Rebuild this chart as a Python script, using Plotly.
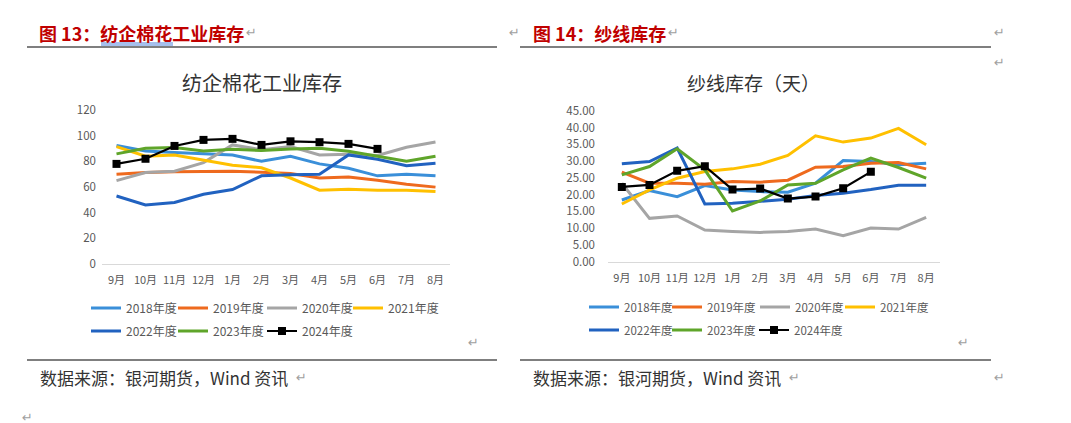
import plotly.graph_objects as go
from plotly.subplots import make_subplots

W, H = 1071, 423
OFF = 8  # page body margin in the browser

months = ["9月", "10月", "11月", "12月", "1月", "2月", "3月", "4月", "5月", "6月", "7月", "8月"]
seasons = ["2018年度", "2019年度", "2020年度", "2021年度", "2022年度", "2023年度", "2024年度"]
colors = ["#3A8FD9", "#EE6A1E", "#A5A5A5", "#FFC000", "#2162C0", "#5FA52A", "#000000"]

# 纺企棉花工业库存 (万吨)
cotton_2018 = [92.3, 88.0, 86.8, 86.0, 85.0, 80.0, 84.0, 78.0, 74.6, 68.7, 70.0, 68.7]
cotton_2019 = [70.0, 71.3, 71.8, 72.3, 72.3, 71.5, 70.5, 67.0, 67.7, 65.3, 62.2, 59.9]
cotton_2020 = [65.0, 71.3, 72.3, 79.0, 92.8, 89.0, 91.5, 85.0, 85.5, 84.5, 91.0, 95.0]
cotton_2021 = [91.5, 84.0, 85.0, 81.0, 77.0, 75.0, 67.0, 57.5, 58.3, 57.5, 57.5, 56.5]
cotton_2022 = [53.0, 46.0, 48.0, 54.4, 58.0, 68.7, 69.5, 70.0, 85.0, 81.6, 76.5, 78.5]
cotton_2023 = [85.8, 90.2, 90.7, 88.0, 89.4, 88.4, 89.7, 90.2, 87.9, 83.7, 80.0, 84.0]
cotton_2024 = [78.0, 82.0, 92.0, 96.7, 97.5, 92.8, 95.6, 94.9, 93.6, 89.7]

# 纱线库存（天）
yarn_2018 = [18.4, 21.2, 19.4, 22.7, 21.4, 20.9, 20.7, 23.4, 30.2, 29.9, 28.9, 29.4]
yarn_2019 = [26.7, 23.4, 23.4, 23.1, 23.9, 23.7, 24.3, 28.2, 28.4, 29.4, 29.6, 27.7]
yarn_2020 = [23.4, 12.9, 13.6, 9.4, 9.0, 8.7, 9.0, 9.7, 7.7, 10.0, 9.7, 13.2]
yarn_2021 = [17.2, 21.4, 24.9, 26.9, 27.7, 29.1, 31.7, 37.6, 35.7, 36.9, 39.8, 34.9]
yarn_2022 = [29.2, 29.9, 33.9, 17.2, 17.4, 18.1, 18.6, 19.7, 20.4, 21.5, 22.8, 22.8]
yarn_2023 = [25.9, 28.4, 33.7, 27.4, 15.1, 18.1, 22.9, 23.4, 27.4, 30.9, 28.1, 24.9]
yarn_2024 = [22.3, 22.9, 27.1, 28.5, 21.5, 21.8, 18.8, 19.4, 21.9, 26.8]

cotton = [cotton_2018, cotton_2019, cotton_2020, cotton_2021, cotton_2022, cotton_2023, cotton_2024]
yarn = [yarn_2018, yarn_2019, yarn_2020, yarn_2021, yarn_2022, yarn_2023, yarn_2024]


def px(x):
    return (x - OFF) / W


def py(y):
    return 1 - (y - OFF) / H


# legend slot of each season: (left-chart x, right-chart x, row y)
slot_x_left = [86, 173, 262, 348, 86, 173, 262]
slot_x_right = [584, 667, 755, 840, 584, 667, 754]
slot_y_left = [308, 308, 308, 308, 331, 331, 331]
slot_y_right = [307, 307, 307, 307, 330, 330, 330]

fig = make_subplots(rows=1, cols=2)

legends = {}
n = 0
for col, data, sx, sy, fsize in [(1, cotton, slot_x_left, slot_y_left, 12),
                                 (2, yarn, slot_x_right, slot_y_right, 11.5)]:
    for i, (name, vals) in enumerate(zip(seasons, data)):
        n += 1
        leg_id = "legend" if n == 1 else f"legend{n}"
        is_last = i == len(seasons) - 1
        fig.add_trace(go.Scatter(
            x=months[:len(vals)], y=vals, name=name,
            mode="lines+markers" if is_last else "lines",
            line=dict(color=colors[i], width=2.2 if is_last else 3),
            marker=dict(symbol="square", size=8, color="#000000"),
            legend=leg_id,
        ), row=1, col=col)
        legends[leg_id] = dict(x=px(sx[i]), y=py(sy[i]), xanchor="left", yanchor="middle",
                               orientation="h", itemwidth=30, bgcolor="rgba(0,0,0,0)",
                               itemclick=False,
                               font=dict(family="Noto Sans CJK SC", size=fsize, color="#595959"))
fig.update_layout(**legends)

axis_font = dict(family="Noto Sans CJK SC", size=11, color="#595959")
fig.update_xaxes(type="category", categoryorder="array", categoryarray=months,
                 range=[-0.5, 11.5], showgrid=False, showline=True, linecolor="#D9D9D9",
                 linewidth=1, ticks="", tickfont=axis_font, zeroline=False,
                 ticklabelstandoff=6)
fig.update_yaxes(showgrid=False, showline=False, zeroline=False, ticks="",
                 tickfont=dict(family="Noto Sans CJK SC", size=11.5, color="#595959"))

fig.update_layout(
    xaxis=dict(domain=[px(102), px(450)]),
    yaxis=dict(domain=[py(264), py(110)], range=[0, 120], dtick=20, ticklabelstandoff=5),
    xaxis2=dict(domain=[px(608), px(940)]),
    yaxis2=dict(domain=[py(261.5), py(111)], range=[0, 45], dtick=5, tickformat=".2f",
                ticklabelstandoff=12),
)

annotations = [
    dict(text="<b>图 13：纺企棉花工业库存</b>", x=px(37), y=py(33),
         font=dict(family="Noto Sans CJK SC", size=18, color="#C00000")),
    dict(text="<b>图 14：纱线库存</b>", x=px(531), y=py(33),
         font=dict(family="Noto Sans CJK SC", size=18, color="#C00000")),
    dict(text="纺企棉花工业库存", x=px(180), y=py(82),
         font=dict(family="Noto Sans CJK SC", size=20, color="#333333")),
    dict(text="纱线库存（天）", x=px(685), y=py(82),
         font=dict(family="Noto Sans CJK SC", size=19, color="#333333")),
    dict(text="数据来源：银河期货，Wind 资讯", x=px(38), y=py(377),
         font=dict(family="Noto Sans CJK SC", size=17, color="#333333")),
    dict(text="数据来源：银河期货，Wind 资讯", x=px(531), y=py(377),
         font=dict(family="Noto Sans CJK SC", size=17, color="#333333")),
]
# paragraph marks
for x, y in [(244, 33), (507, 33), (666, 33), (992, 33), (992, 63), (466, 342),
             (956, 342), (294, 377), (787, 377), (992, 377), (20, 417)]:
    annotations.append(dict(text="↵", x=px(x), y=py(y),
                            font=dict(family="DejaVu Sans", size=13, color="#A0A0A0")))
for a in annotations:
    a.update(xref="paper", yref="paper", showarrow=False, xanchor="left", yanchor="middle")
fig.update_layout(annotations=annotations)

shapes = []
for x0, x1 in [(27, 497), (520, 991)]:
    for y in (47, 360):
        shapes.append(dict(type="line", xref="paper", yref="paper", x0=px(x0), x1=px(x1),
                           y0=py(y), y1=py(y), line=dict(color="#000000", width=1.2)))
# spell-check underline under 纺企棉花
for y in (43, 45):
    shapes.append(dict(type="line", xref="paper", yref="paper", x0=px(101), x1=px(173),
                       y0=py(y), y1=py(y), line=dict(color="#1F5FD0", width=0.8)))
fig.update_layout(shapes=shapes)

fig.update_layout(width=W, height=H,
                  margin=dict(l=0, r=0, t=0, b=0, autoexpand=False),
                  paper_bgcolor="white", plot_bgcolor="white", showlegend=True)

fig.write_html("out.html")
